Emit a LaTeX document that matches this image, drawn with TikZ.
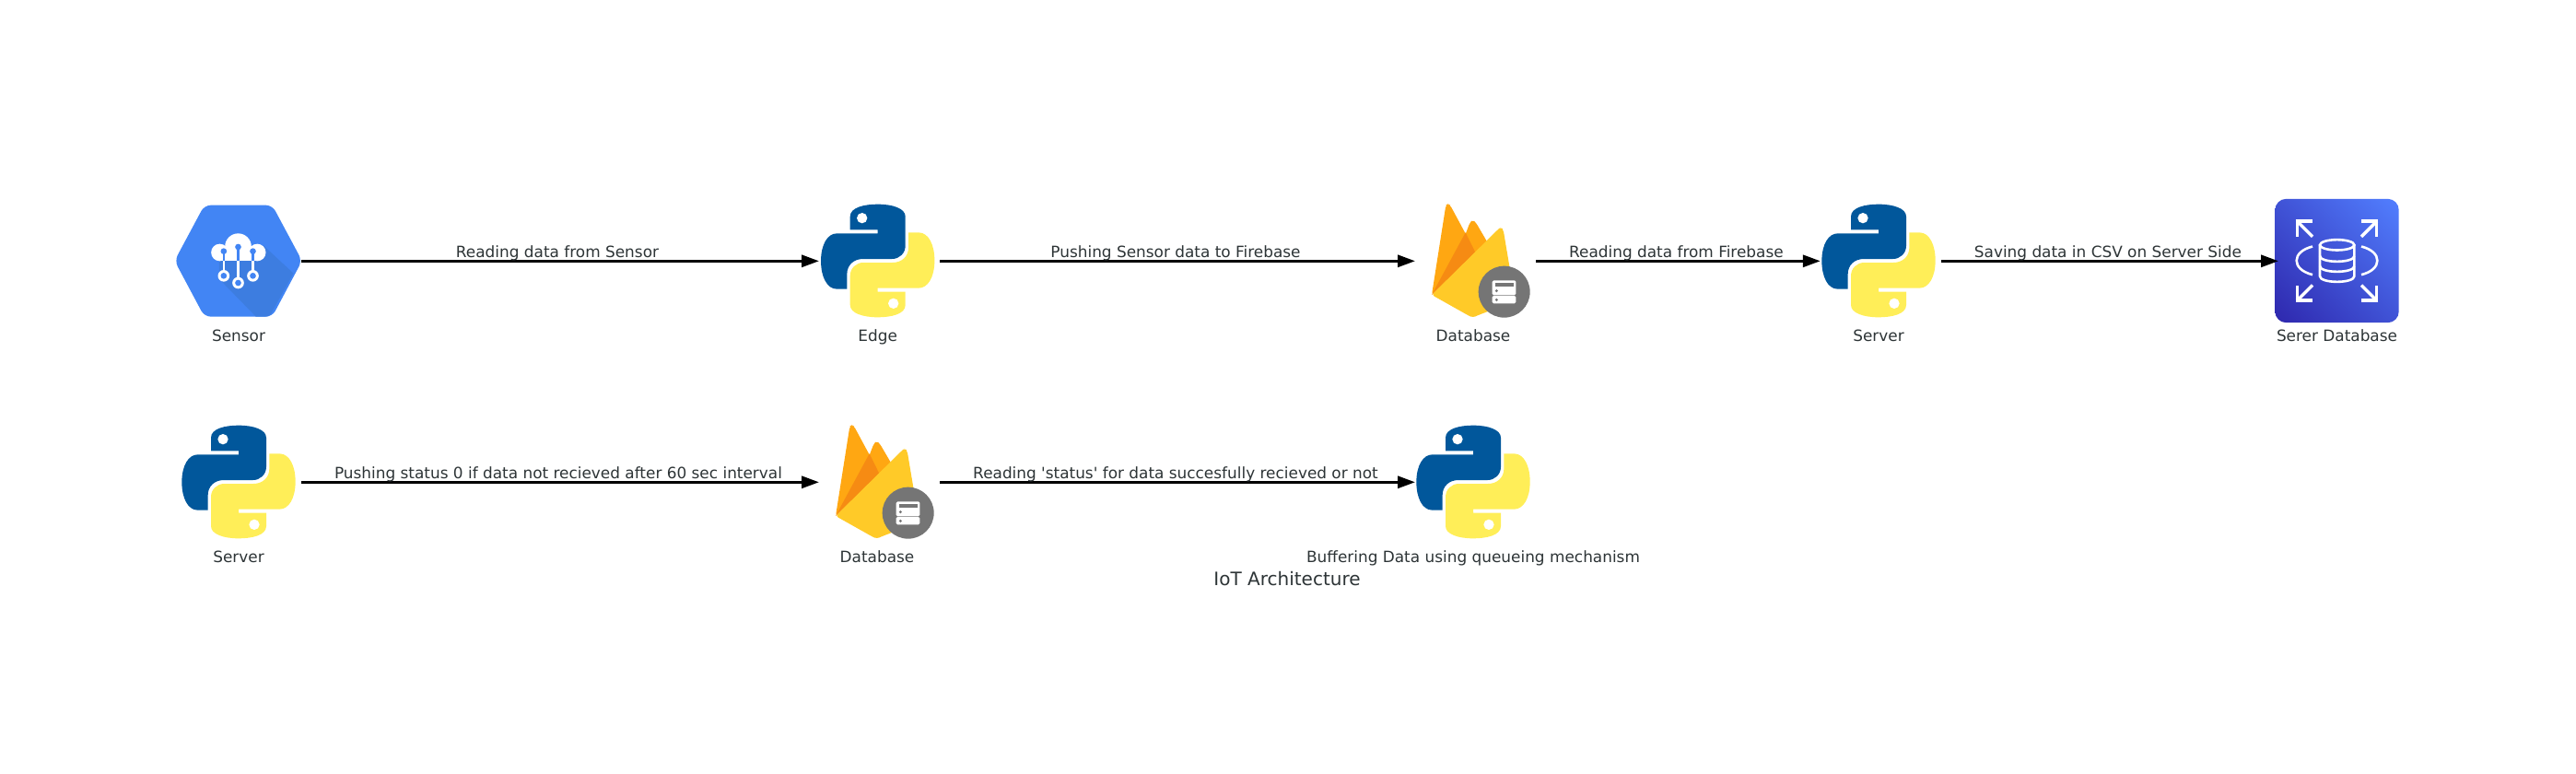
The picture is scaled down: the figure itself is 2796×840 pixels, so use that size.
\documentclass[tikz,border=0pt]{standalone}
\usepackage{fontspec}
\setmainfont[Ligatures=TeXOff]{DejaVu Sans}
\usetikzlibrary{arrows.meta,shadings}
\definecolor{txt}{HTML}{2D3436}
\definecolor{pyblue}{HTML}{01579B}
\definecolor{pyyellow}{HTML}{FFEE58}
\definecolor{gblue}{HTML}{4285F4}
\definecolor{gshadow}{HTML}{3D7DE0}
\definecolor{fbA}{HTML}{FFA712}
\definecolor{fbB}{HTML}{F68B13}
\definecolor{fbC}{HTML}{FFCA28}
\definecolor{fbgray}{HTML}{757575}
\definecolor{rdsA}{HTML}{2E27AD}
\definecolor{rdsB}{HTML}{527FFF}
\tikzset{
  iconbox/.style={inner sep=0pt,outer sep=0pt,minimum height=120pt},
  nlabel/.style={inner sep=0pt,outer sep=0pt,anchor=base,text=txt,font=\fontsize{16.9}{20}\selectfont},
  elabel/.style={inner sep=0pt,outer sep=0pt,anchor=base,text=txt,font=\fontsize{16.9}{20}\selectfont,yshift=4.3pt},
  titlelabel/.style={inner sep=0pt,outer sep=0pt,anchor=base,text=txt,font=\fontsize{20}{24}\selectfont},
  flow/.style={line width=3pt,black,-{Triangle[length=19pt,width=13pt]},shorten >=0pt},
  pics/python/.style={code={
    \begin{scope}[shift={(-248,-249)}]
      \def\pyhalf{(158,148) -- (158,105) .. controls (158,75) and (205,65) .. (248,65) .. controls (295,65) and (338,78) .. (338,105) -- (338,200) .. controls (338,225) and (318,243) .. (295,243) -- (200,243) .. controls (170,243) and (148,263) .. (148,292) -- (148,341) -- (115,341) .. controls (82,341) and (63,300) .. (63,250) .. controls (63,195) and (85,160) .. (115,160) -- (248,160) -- (248,148) -- cycle}
      \fill[pyblue] \pyhalf;
      \fill[white] (197,110) circle[radius=17];
      \begin{scope}[shift={(248,249)},rotate=180,shift={(-248,-249)}]
        \fill[pyyellow] \pyhalf;
        \fill[white] (197,110) circle[radius=17];
      \end{scope}
    \end{scope}
  }},
  pics/hexcloud/.style={code={
    \begin{scope}[shift={(-267,-249)}]
      \fill[gblue,rounded corners=7pt] (60,249) -- (157,68) -- (378,68) -- (475,249) -- (378,431) -- (157,431) -- cycle;
      \fill[gshadow] (350,200) -- (447,290) -- (372,425) .. controls (365,430) and (360,431) .. (352,431) -- (325,431) -- (205,308) -- (205,250) -- cycle;
      \fill[white] (207,222) circle[radius=28];
      \fill[white] (329,222) circle[radius=28];
      \fill[white] (267,203) circle[radius=43];
      \fill[white] (207,215) rectangle (329,250);
      \foreach \px/\py/\qy in {220/218/298,267/204/321,315/218/298}{
        \draw[gblue,line width=2.6pt] (\px,\py) -- (\px,250);
        \draw[white,line width=2.6pt] (\px,250) -- (\px,\qy);
        \fill[gblue] (\px,\py) circle[radius=10];
        \fill[white] (\px,\qy) circle[radius=19];
        \fill[gblue] (\px,\qy) circle[radius=10];
      }
    \end{scope}
  }},
  pics/firebase/.style={code={
    \begin{scope}[shift={(-208,-249)}]
      \fill[fbA,rounded corners=3pt] (73,360) -- (119,68) -- (126,64) -- (133,68) -- (215,220) -- cycle;
      \fill[fbA,rounded corners=3pt] (150,250) -- (197,125) -- (207,116) -- (217,125) -- (290,250) -- cycle;
      \fill[fbB] (73,360) -- (183,157) -- (215,222) -- cycle;
      \fill[fbC,rounded corners=3pt] (73,360) -- (291,145) -- (298,140) -- (306,148) -- (345,380) -- (222,427) -- (207,434) -- (192,427) -- cycle;
      \fill[fbgray] (309,350) circle[radius=84];
      \fill[white,rounded corners=1.5pt] (270,313) rectangle (347,361);
      \fill[white,rounded corners=1.5pt] (270,363) rectangle (347,388);
      \fill[fbgray] (279,322) rectangle (339,333);
      \fill[fbgray] (284,347) circle[radius=5];
      \fill[fbgray] (284,376) circle[radius=5];
    \end{scope}
  }},
  pics/rds/.style={code={
    \begin{scope}[shift={(-289.5,-249.5)}]
      \shade[rounded corners=12pt,lower left=rdsA,upper right=rdsB,lower right=rdsA!50!rdsB,upper left=rdsA!50!rdsB] (88,48) rectangle (491,451);
      \begin{scope}[white,line width=3.4pt]
        \draw (155,121) -- (210,121);
        \draw (160,116) -- (160,170);
        \draw (160,121) -- (210,171);
        \draw (424,121) -- (369,121);
        \draw (419,116) -- (419,170);
        \draw (419,121) -- (369,171);
        \draw (155,379) -- (210,379);
        \draw (160,384) -- (160,330);
        \draw (160,379) -- (210,329);
        \draw (424,379) -- (369,379);
        \draw (419,384) -- (419,330);
        \draw (419,379) -- (369,329);
      \end{scope}
      \begin{scope}[white,line width=2.6pt]
        \draw (210,203) .. controls (175,212) and (158,230) .. (158,249) .. controls (158,268) and (175,286) .. (210,295);
        \draw (369,203) .. controls (404,212) and (421,230) .. (421,249) .. controls (421,268) and (404,286) .. (369,295);
        \draw (290,198) ellipse[x radius=56,y radius=17];
        \draw (234,198) -- (234,300) .. controls (234,311) and (260,318) .. (290,318) .. controls (320,318) and (346,311) .. (346,300) -- (346,198);
        \draw (234,234) .. controls (234,245) and (260,252) .. (290,252) .. controls (320,252) and (346,245) .. (346,234);
        \draw (234,267) .. controls (234,278) and (260,285) .. (290,285) .. controls (320,285) and (346,278) .. (346,267);
      \end{scope}
    \end{scope}
  }}
}
\begin{document}
\begin{tikzpicture}[x=1pt,y=-1pt]
\useasboundingbox (0,0) rectangle (2796,840);
% connector anchors
\node[iconbox,minimum width=137pt] (sensor) at (258.5,283.3) {};
\node[iconbox,minimum width=131pt] (edge) at (954.5,283.3) {};
\node[iconbox,minimum width=131pt] (db1) at (1601.5,283.3) {};
\node[iconbox,minimum width=131pt] (srv1) at (2041.3,283.3) {};
\node[iconbox,minimum width=137pt] (srvdb) at (2541.5,283.3) {};
\node[iconbox,minimum width=137pt] (srv2) at (258.5,523.3) {};
\node[iconbox,minimum width=131pt] (db2) at (954.5,523.3) {};
\node[iconbox,minimum width=131pt] (buf) at (1601.5,523.3) {};
% icons
\pic[scale=1/3] at (258.5,283) {hexcloud};
\pic[scale=1/3] at (952.7,283) {python};
\pic[scale=1/3] at (1599,283) {firebase};
\pic[scale=1/3] at (2039,283) {python};
\pic[scale=1/3] at (2536.5,283) {rds};
\pic[scale=1/3] at (259,523) {python};
\pic[scale=1/3] at (952,523) {firebase};
\pic[scale=1/3] at (1599,523) {python};
% labels
\node[nlabel] (lsensor) at (259,370) {Sensor};
\node[nlabel] (ledge) at (952.7,370) {Edge};
\node[nlabel] (ldb1) at (1599,370) {Database};
\node[nlabel] (lsrv1) at (2039,370) {Server};
\node[nlabel] (lsrvdb) at (2536.5,370) {Serer Database};
\node[nlabel] (lsrv2) at (259,610) {Server};
\node[nlabel] (ldb2) at (952,610) {Database};
\node[nlabel] (lbuf) at (1599,610) {Buffering Data using queueing mechanism};
\node[titlelabel] (ttl) at (1397,635) {IoT Architecture};
% connectors
\draw[flow] (sensor.east) -- node[elabel,midway,xshift=-3pt] (e1) {Reading data from Sensor} (edge.west);
\draw[flow] (edge.east) -- node[elabel,midway,xshift=-2pt] (e2) {Pushing Sensor data to Firebase} (db1.west);
\draw[flow] (db1.east) -- node[elabel,midway,xshift=-2pt] (e3) {Reading data from Firebase} (srv1.west);
\draw[flow] (srv1.east) -- node[elabel,midway,xshift=-2pt] (e4) {Saving data in CSV on Server Side} (srvdb.west);
\draw[flow] (srv2.east) -- node[elabel,midway,xshift=-2pt] (e5) {Pushing status 0 if data not recieved after 60 sec interval} (db2.west);
\draw[flow] (db2.east) -- node[elabel,midway,xshift=-2pt] (e6) {Reading 'status' for data succesfully recieved or not} (buf.west);
\end{tikzpicture}
\end{document}
